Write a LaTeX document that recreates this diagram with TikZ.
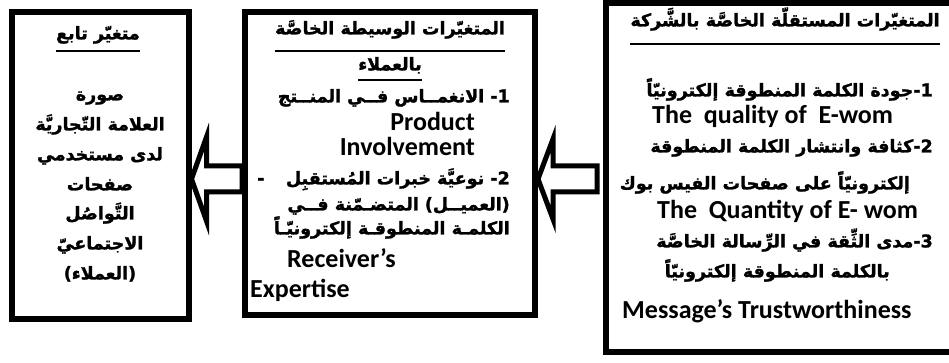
\documentclass[tikz,border=0pt]{standalone}
\usepackage{fontspec}
\setmainfont{Carlito}
\newfontfamily\arabicfont[Script=Arabic, BoldFeatures={FakeBold=1.5}]{DejaVu Sans}
\TeXXeTstate=1
\usetikzlibrary{calc}
\newcommand{\artxt}[1]{\beginR #1\endR}
\tikzset{
  box/.style={draw, line width=6pt, inner sep=0pt},
  ar/.style={font=\arabicfont\bfseries\fontsize{17.5}{20}\selectfont, inner sep=0pt},
  en/.style={font=\bfseries\fontsize{26}{28}\selectfont, inner sep=0pt},
  ul/.style={line width=2pt},
  fatarrow/.style={draw, line width=5pt, fill=white, line join=miter},
}
\begin{document}
\begin{tikzpicture}[x=1pt,y=-1pt]
\useasboundingbox (0,0) rectangle (949,363);
% boxes
\node[box, minimum width=177pt, minimum height=306pt] (dep) at (100,165.5) {};
\node[box, minimum width=290pt, minimum height=303pt] (med) at (390,163.5) {};
\node[box, minimum width=354pt, minimum height=349pt] (ind) at (783,177.5) {};
% dependent variable
\node[ar, anchor=mid] (d0) at (98,37) {\artxt{متغيّر تابع}};
\draw[ul] ([yshift=-12pt]d0.base west) -- ([yshift=-12pt]d0.base east);
\node[ar, anchor=mid] (d1) at (100,98) {\artxt{صورة}};
\node[ar, anchor=mid] (d2) at (100,128) {\artxt{العلامة التّجاريَّة}};
\node[ar, anchor=mid] (d3) at (100,158) {\artxt{لدى مستخدمي}};
\node[ar, anchor=mid] (d4) at (100,188) {\artxt{صفحات}};
\node[ar, anchor=mid] (d5) at (100,217) {\artxt{التَّواصُل}};
\node[ar, anchor=mid] (d6) at (100,247) {\artxt{الاجتماعيّ}};
\node[ar, anchor=mid] (d7) at (100,277) {\artxt{(العملاء)}};
% mediating variables
\node[ar, anchor=mid] (m0) at (390,32) {\artxt{المتغيّرات الوسيطة الخاصَّة}};
\draw[ul] ([yshift=-17pt]m0.base west) -- ([yshift=-17pt]m0.base east);
\node[ar, anchor=mid] (m1) at (390,68) {\artxt{بالعملاء}};
\draw[ul] ([yshift=-10pt]m1.base west) -- ([yshift=-10pt]m1.base east);
\node[ar, anchor=mid east] (m2) at (510,100) {\artxt{1- الانغمــاس فــي المنــتج}};
\node[en, anchor=mid east] (m3) at (475,128) {Product};
\node[en, anchor=mid east] (m4) at (475,153) {Involvement};
\node[ar, anchor=mid east] (m5) at (510,182) {\artxt{2- نوعيَّة خبرات المُستقبِل}};
\node[ar, anchor=mid west] (m5b) at (257,182) {-};
\node[ar, anchor=mid east] (m6) at (510,208) {\artxt{(العميــل) المتضـمّنة فــي}};
\node[ar, anchor=mid east] (m7) at (510,232) {\artxt{الكلمـة المنطوقـة إلكترونيّـاً}};
\node[en, anchor=mid west] (m8) at (287,265) {Receiver’s};
\node[en, anchor=mid west] (m9) at (250,295) {Expertise};
% independent variables
\node[ar, anchor=mid] (i0) at (785,24) {\artxt{المتغيّرات المستقلّة الخاصَّة بالشَّركة}};
\draw[ul] ([yshift=-18pt]i0.base west) -- ([yshift=-18pt]i0.base east);
\node[ar, anchor=mid east] (i1) at (933,94) {\artxt{1-جودة الكلمة المنطوقة إلكترونيّاً}};
\node[en, anchor=mid west] (i2) at (652,121) {The~ quality of~ E-wom};
\node[ar, anchor=mid east] (i3) at (933,150) {\artxt{2-كثافة وانتشار الكلمة المنطوقة}};
\node[ar, anchor=mid east] (i4) at (910,187) {\artxt{إلكترونيّاً على صفحات الفيس بوك}};
\node[en, anchor=mid west] (i5) at (657,216) {The~ Quantity of E- wom};
\node[ar, anchor=mid east] (i6) at (933,245) {\artxt{3-مدى الثِّقة في الرِّسالة الخاصَّة}};
\node[ar, anchor=mid east] (i7) at (890,275) {\artxt{بالكلمة المنطوقة إلكترونيّاً}};
\node[en, anchor=mid west] (i8) at (622,316) {Message’s Trustworthiness};
% arrows
\coordinate (arrL) at (dep.east |- 0,179);
\coordinate (arrR) at (med.east |- 0,179);
\draw[fatarrow] (arrL) -- ++(15,-42) -- ++(0,29) coordinate (a1)
  -- (a1 -| med.west) -- ++(0,26) -- ([xshift=15pt,yshift=-13pt]arrL) -- ++(0,29) -- cycle;
\draw[fatarrow] (arrR) -- ++(15,-40) -- ++(0,27) coordinate (b1)
  -- ($(b1 -| ind.west)+(-6,0)$) -- ++(0,26) -- ([xshift=15pt,yshift=-13pt]arrR) -- ++(0,27) -- cycle;
\end{tikzpicture}
\end{document}
